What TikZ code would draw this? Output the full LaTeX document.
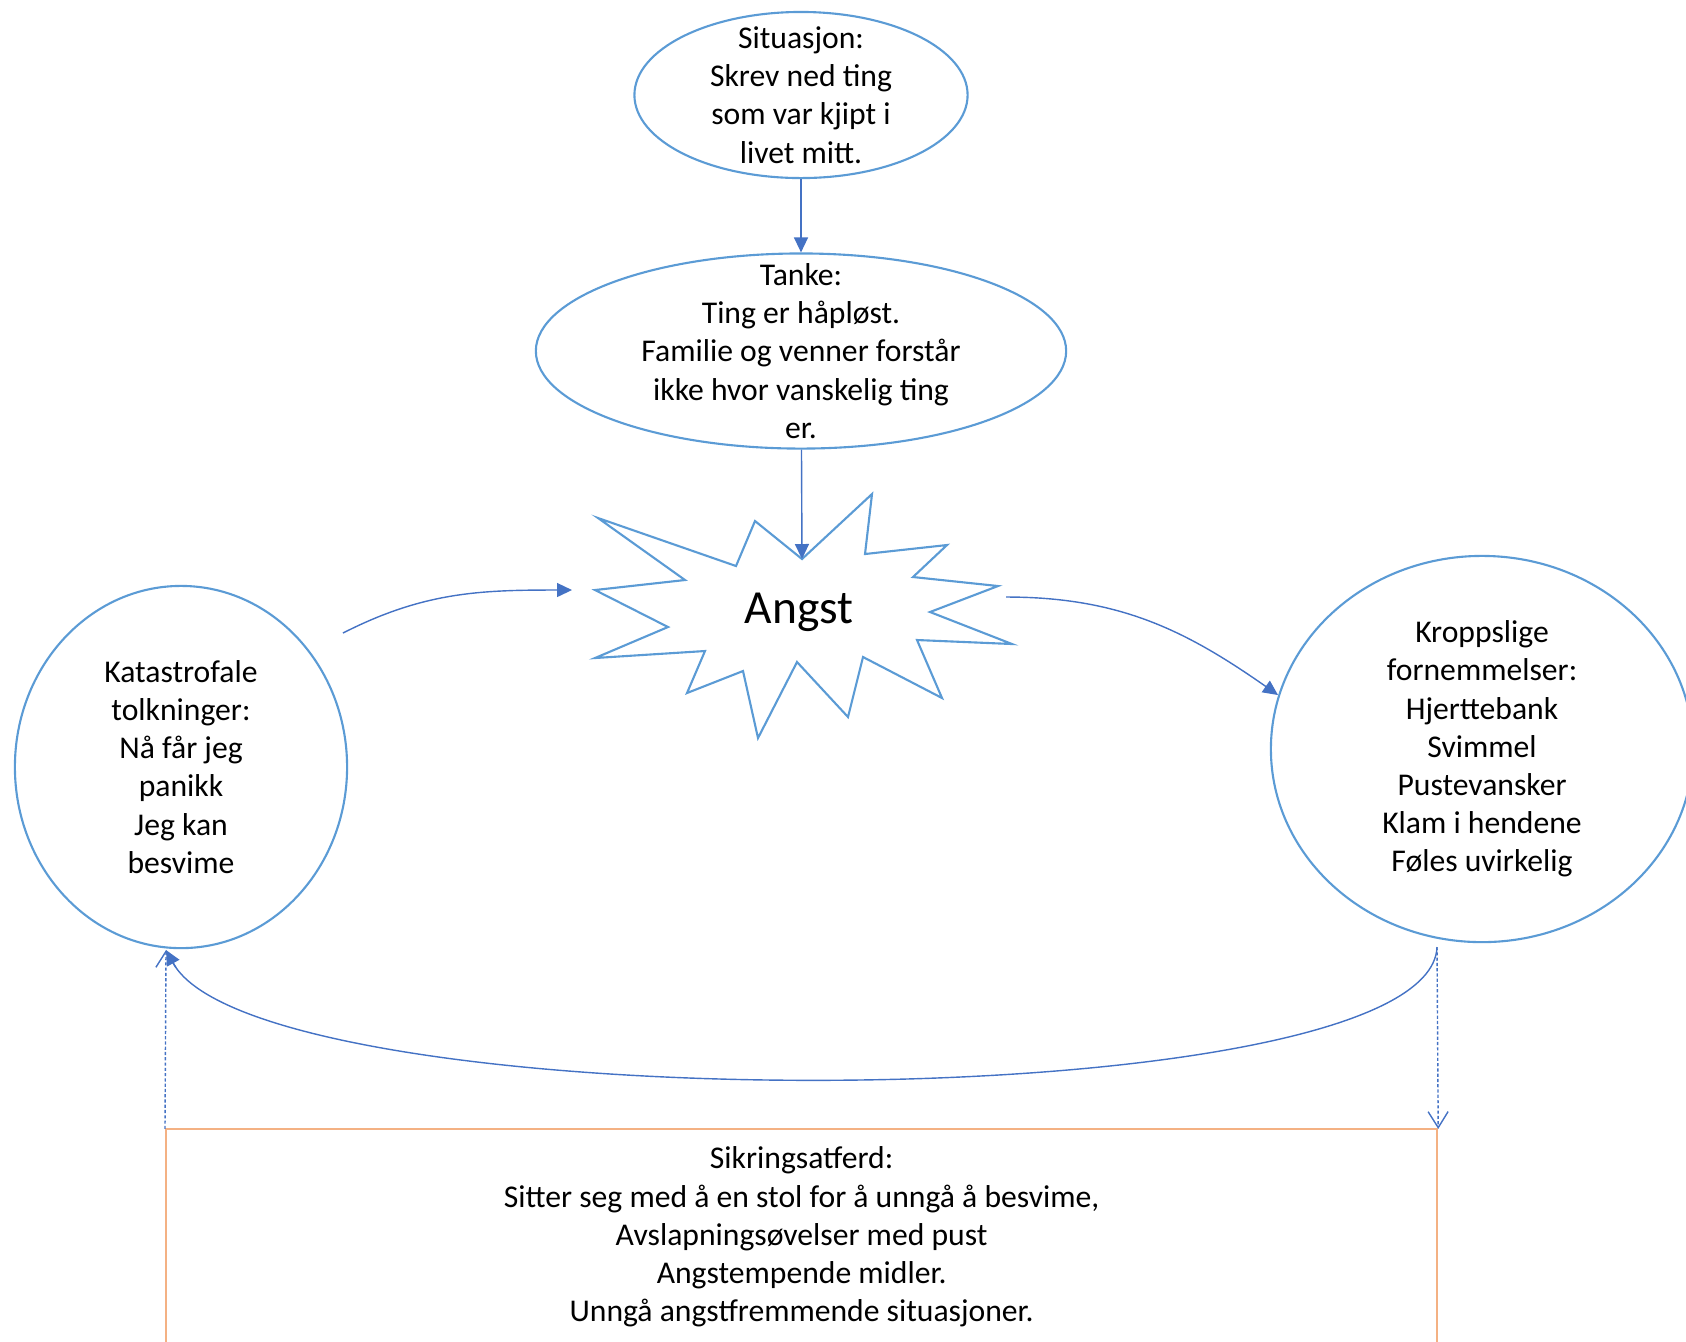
\documentclass[tikz,border=0pt]{standalone}
\usepackage{fontspec}
\setmainfont{Carlito}
\usetikzlibrary{shapes, arrows.meta, positioning, calc}
\definecolor{shapeblue}{HTML}{5B9BD5}
\definecolor{lineblue}{HTML}{4472C4}
\definecolor{boxorange}{HTML}{F4B183}

\begin{document}
\begin{tikzpicture}[
        x=0.01cm, y=-0.01cm,
        bubble/.style={ellipse, draw=shapeblue, line width=0.6pt, inner sep=-2cm, align=center, font={\fontsize{9}{10.85}\selectfont}},
        burst/.style={draw=shapeblue, line width=0.6pt, line join=miter},
        safety/.style={rectangle, draw=boxorange, line width=0.7pt, minimum width=12.7cm, minimum height=2.16cm, align=center, font={\fontsize{9}{10.85}\selectfont}},
        arrow/.style={-{Triangle[length=0.15cm, width=0.14cm]}, line width=0.4pt, draw=lineblue},
        dasharrow/.style={-{Straight Barb[length=0.16cm, width=0.2cm]}, line width=0.4pt, draw=lineblue, dash pattern=on 0.9pt off 0.6pt}
    ]
        \useasboundingbox (0,0) rectangle (1686,1341);

        \node[bubble, minimum width=3.33cm, minimum height=1.66cm] (situasjon) at (801,95) {Situasjon:\\Skrev ned ting\\som var kjipt i\\livet mitt.};
        \node[bubble, minimum width=5.3cm, minimum height=1.95cm] (tanke) at (801,351) {Tanke:\\Ting er håpløst.\\Familie og venner forstår\\ikke hvor vanskelig ting\\er.};
        \node[bubble, minimum width=3.32cm, minimum height=3.62cm] (katastrofe) at (181,767) {Katastrofale\\tolkninger:\\Nå får jeg\\panikk\\Jeg kan\\besvime};
        \node[bubble, minimum width=4.22cm, minimum height=3.86cm] (kropp) at (1482,749) {Kroppslige\\fornemmelser:\\Hjerttebank\\Svimmel\\Pustevansker\\Klam i hendene\\Føles uvirkelig};
        \node[safety] (sikring) at (801.6,1237) {Sikringsatferd:\\Sitter seg med å en stol for å unngå å besvime,\\Avslapningsøvelser med pust\\Angstempende midler.\\Unngå angstfremmende situasjoner.};

        % starburst round Angst
        \draw[burst] (598,518) -- (685,580) -- (595,590) -- (668,627) -- (595,658)
            -- (705,651) -- (687,693) -- (743,671) -- (758,738) -- (797,662)
            -- (848,717) -- (863,657) -- (942,698) -- (917,640) -- (1012,644)
            -- (930,612) -- (998,586) -- (913,577) -- (947,545) -- (865,554)
            -- (872,494) -- (802,559) coordinate (burst-top) -- (755,521) -- (736,566) -- cycle;
        \node[font={\fontsize{13.5}{16}\selectfont}] (angst) at (799,612) {Angst};

        \coordinate (kat-out) at (343,633);
        \coordinate (burst-left) at (572,590);
        \coordinate (burst-right) at (1006,597);
        \coordinate (kropp-in) at (1278,695);
        \coordinate (kropp-foot) at (1437,947);
        \coordinate (kat-foot) at (166,950);

        \draw[arrow] (situasjon) -- (tanke);
        \draw[arrow] (tanke) -- (burst-top);
        \draw[arrow] (kat-out) to[out=27, in=180] (burst-left);
        \draw[arrow] (burst-right) to[out=0, in=145] (kropp-in);
        \draw[arrow] (kropp-foot) .. controls (1430,1122) and (260,1122) .. (kat-foot);
        \draw[dasharrow] ([yshift=-0.35pt]sikring.north west) -- (kat-foot);
        \draw[dasharrow] (kropp-foot) -- ([yshift=-0.35pt]sikring.north east);
    \end{tikzpicture}
\end{document}
